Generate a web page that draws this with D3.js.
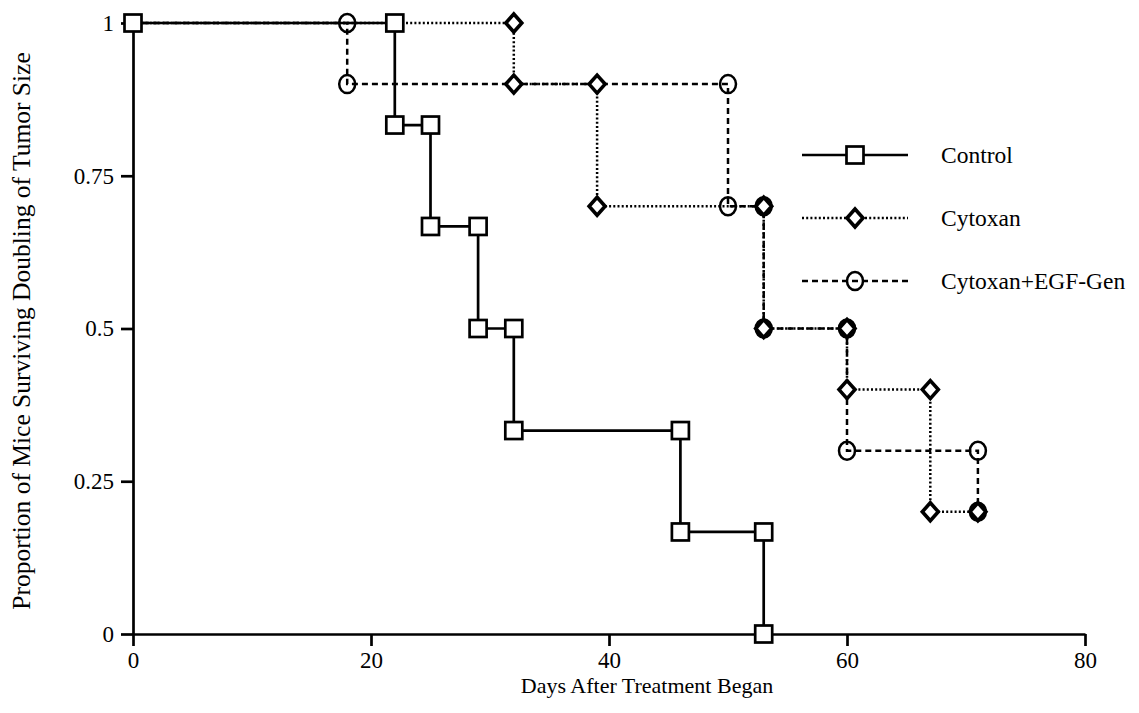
<!DOCTYPE html>
<html>
<head>
<meta charset="utf-8">
<script src="https://cdn.jsdelivr.net/npm/d3@7"></script>
<style>
  html, body { margin: 0; padding: 0; background: #fff; }
  svg { display: block; }
</style>
</head>
<body>
<svg id="chart" width="1139" height="713"></svg>
<script>
// Kaplan–Meier style step data: day of each step and the proportion after it
const controlDays   = [0, 22, 25, 29, 32, 46, 53];
const controlProp   = [1, 0.833, 0.667, 0.5, 0.333, 0.167, 0];

const cytoxanDays   = [0, 32, 39, 53, 60, 67, 71];
const cytoxanProp   = [1, 0.9, 0.7, 0.5, 0.4, 0.2, 0.2];

const egfDays       = [0, 18, 50, 53, 60, 71];
const egfProp       = [1, 0.9, 0.7, 0.5, 0.3, 0.2];

const seriesNames   = ["Control", "Cytoxan", "Cytoxan+EGF-Gen"];
const xTicks        = [0, 20, 40, 60, 80];
const yTicks        = [0, 0.25, 0.5, 0.75, 1];
const yTickLabels   = ["0", "0.25", "0.5", "0.75", "1"];

const FONT = "'Liberation Serif', 'Times New Roman', Times, 'DejaVu Serif', serif";

const svg = d3.select("#chart");
const m = { left: 133, right: 1085, top: 23, bottom: 634 };

const x = d3.scaleLinear().domain([0, 80]).range([m.left, m.right]);
const y = d3.scaleLinear().domain([0, 1]).range([m.bottom, m.top]);

// Turn (day, proportion) steps into corner points of the survival curve
function stepCorners(days, props) {
  const pts = [[days[0], props[0]]];
  for (let i = 1; i < days.length; i++) {
    pts.push([days[i], props[i - 1]]);
    if (props[i] !== props[i - 1]) pts.push([days[i], props[i]]);
  }
  return pts;
}

const series = [
  { name: seriesNames[0], pts: stepCorners(controlDays, controlProp), dash: null,  shape: "square" },
  { name: seriesNames[1], pts: stepCorners(cytoxanDays, cytoxanProp), dash: "2,2.2", shape: "diamond" },
  { name: seriesNames[2], pts: stepCorners(egfDays, egfProp),         dash: "6,4", shape: "circle" }
];

// Axes
const axisStyle = g => {
  g.attr("font-family", null).attr("font-size", null);
  g.select(".domain").attr("stroke", "#000").attr("stroke-width", 2.7);
  g.selectAll(".tick line").attr("stroke", "#000").attr("stroke-width", 2.7);
  g.selectAll(".tick text").attr("fill", "#000").style("font-family", FONT).style("font-size", "23px");
};

svg.append("g")
  .attr("transform", `translate(0,${m.bottom})`)
  .call(d3.axisBottom(x).tickValues(xTicks).tickSize(12).tickSizeOuter(0).tickPadding(6).tickFormat(d3.format("d")))
  .call(axisStyle);

svg.append("g")
  .attr("transform", `translate(${m.left},0)`)
  .call(d3.axisLeft(y).tickValues(yTicks).tickSize(12).tickSizeOuter(0).tickPadding(7)
        .tickFormat((d, i) => yTickLabels[i]))
  .call(axisStyle);

// Axis titles
svg.append("text")
  .attr("x", 647).attr("y", 693)
  .attr("text-anchor", "middle")
  .style("font-family", FONT).style("font-size", "22px")
  .text("Days After Treatment Began");

svg.append("text")
  .attr("transform", "translate(30,331) rotate(-90)")
  .attr("text-anchor", "middle")
  .style("font-family", FONT).style("font-size", "25.5px")
  .text("Proportion of Mice Surviving Doubling of Tumor Size");

// Marker drawing
function drawMarker(g, shape, cx, cy) {
  if (shape === "square") {
    g.append("rect").attr("x", cx - 8.5).attr("y", cy - 8.5).attr("width", 17).attr("height", 17)
      .attr("fill", "#fff").attr("stroke", "#000").attr("stroke-width", 2.7);
  } else if (shape === "diamond") {
    g.append("path")
      .attr("d", `M${cx},${cy - 9}L${cx + 8},${cy}L${cx},${cy + 9}L${cx - 8},${cy}Z`)
      .attr("fill", "#fff").attr("stroke", "#000").attr("stroke-width", 3.6);
  } else {
    g.append("ellipse").attr("cx", cx).attr("cy", cy).attr("rx", 8).attr("ry", 9)
      .attr("fill", "none").attr("stroke", "#000").attr("stroke-width", 2.5);
  }
}

const line = d3.line().x(d => x(d[0])).y(d => y(d[1]));

// Curves: treated groups underneath, control on top
const drawOrder = [series[2], series[1], series[0]];
drawOrder.forEach(s => {
  svg.append("path")
    .datum(s.pts)
    .attr("d", line)
    .attr("fill", "none")
    .attr("stroke", "#000")
    .attr("stroke-width", s.shape === "square" ? 2.7 : 2.5)
    .attr("stroke-dasharray", s.dash);
});

// Markers (the shared start point is shown only by the control square)
drawOrder.forEach(s => {
  const g = svg.append("g");
  s.pts.forEach((p, i) => {
    if (i === 0 && s.shape !== "square") return;
    drawMarker(g, s.shape, x(p[0]), y(p[1]));
  });
});

// Legend
const legendY = [155, 218, 281];
series.forEach((s, i) => {
  const g = svg.append("g");
  g.append("line")
    .attr("x1", 802).attr("x2", 908).attr("y1", legendY[i]).attr("y2", legendY[i])
    .attr("stroke", "#000").attr("stroke-width", s.shape === "square" ? 2.7 : 2.5)
    .attr("stroke-dasharray", s.dash);
  drawMarker(g, s.shape, 855, legendY[i]);
  g.append("text")
    .attr("x", 941).attr("y", legendY[i]).attr("dy", "0.35em")
    .style("font-family", FONT).style("font-size", "23.5px")
    .text(s.name);
});
</script>
</body>
</html>
